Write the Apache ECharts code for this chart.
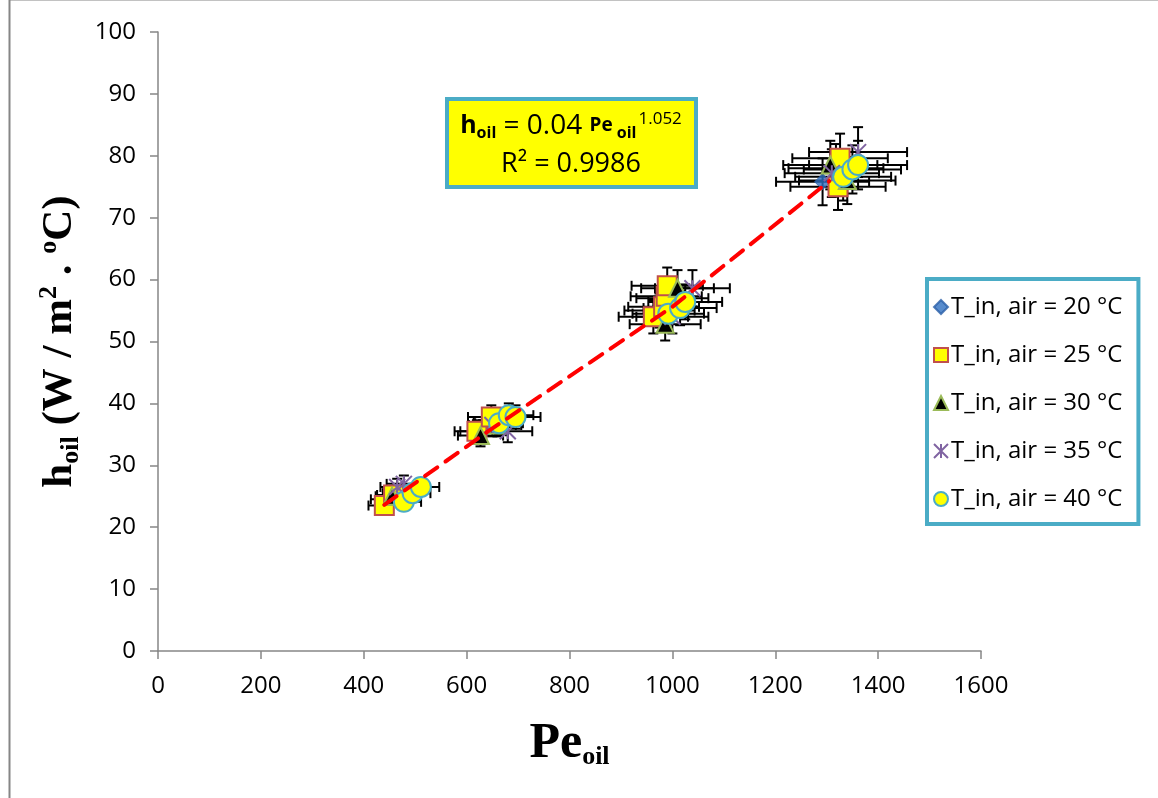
<!DOCTYPE html>
<html>
<head>
<meta charset="utf-8">
<script src="https://cdn.jsdelivr.net/npm/echarts@6/dist/echarts.min.js"></script>
<style>
html,body{margin:0;padding:0;background:#fff;}
#chart{width:1158px;height:798px;}
</style>
</head>
<body>
<div id="chart"></div>
<script>
// ---- data ----
const seriesNames = ['T_in, air = 20 °C','T_in, air = 25 °C','T_in, air = 30 °C','T_in, air = 35 °C','T_in, air = 40 °C'];
const t20 = [[445,24.5],[470,25.5],[632,35.5],[660,37.0],[975,55.0],[1000,57.0],[1292,75.8],[1318,78.0]];
const t25 = [[440,23.5],[458,25.2],[620,35.5],[648,37.8],[963,54.0],[983,55.6],[988,57.3],[990,59.0],[1322,75.0],[1326,79.6]];
const t30 = [[455,25.0],[627,34.8],[660,36.5],[986,52.8],[1010,58.6],[1307,78.5],[1340,76.0]];
const t35 = [[465,26.5],[478,27.0],[650,36.5],[680,35.5],[1000,54.0],[1039,58.6],[1310,77.2],[1361,80.6]];
const t40 = [[478,24.1],[495,25.5],[511,26.5],[663,36.8],[682,38.1],[695,37.8],[992,54.5],[1015,55.4],[1025,56.4],[1332,76.6],[1350,77.8],[1361,78.5]];
const trendPts = [[440,23.6],[640,35.4],[1000,55.6],[1305,75.9]];
const xErrFrac = 0.07;   // percentage error bars
const yErrFrac = 0.05;
const xTicks = {min:0, max:1600, interval:200};
const yTicks = {min:0, max:100, interval:10};

const colors = {
  t20:{fill:'#2e6fc0', border:'#2e6fc0'},
  t25:{fill:'#ffff00', border:'#c0504d'},
  t30:{fill:'#000000', border:'#9bbb59'},
  t35:{fill:'rgba(0,0,0,0)', border:'#8064a2'},
  t40:{fill:'#ffff00', border:'#4bacc6'}
};

const allSets = [t20,t25,t30,t35,t40];
const errData = [];
allSets.forEach(s => s.forEach(p => errData.push([p[0], p[1], p[0]*xErrFrac, p[1]*yErrFrac])));

const chart = echarts.init(document.getElementById('chart'));
const FONT = 'Open Sans';
const asterisk = 'path://M0,0L10,10M10,0L0,10M5,0L5,10';

function scatter(name, data, symbol, size, c, extra){
  return Object.assign({
    name: name, type:'scatter', data:data, symbol:symbol, symbolSize:size, z:5,
    itemStyle:{color:c.fill, borderColor:c.border, borderWidth:2, opacity:1},
    emphasis:{disabled:true}
  }, extra||{});
}

const option = {
  animation:false,
  backgroundColor:'#ffffff',
  grid:{left:158, right:177, top:32, bottom:147},
  xAxis:{
    type:'value', min:xTicks.min, max:xTicks.max, interval:xTicks.interval,
    axisLine:{show:true, onZero:false, lineStyle:{color:'#868686', width:1.5}},
    axisTick:{show:true, inside:false, length:8, lineStyle:{color:'#868686', width:1.5}},
    splitLine:{show:false},
    axisLabel:{color:'#000', fontSize:24, fontFamily:FONT, margin:23, formatter:v => String(v)},
    name:'{b|Pe}{s|oil}', nameLocation:'middle', nameGap:67,
    nameTextStyle:{rich:{
      b:{fontFamily:'Liberation Serif', fontWeight:'bold', fontSize:50, color:'#000'},
      s:{fontFamily:'Liberation Serif', fontWeight:'bold', fontSize:26, color:'#000', verticalAlign:'bottom', padding:[26,0,0,0]}
    }}
  },
  yAxis:{
    type:'value', min:yTicks.min, max:yTicks.max, interval:yTicks.interval,
    axisLine:{show:true, onZero:false, lineStyle:{color:'#868686', width:1.5}},
    axisTick:{show:true, inside:false, length:8, lineStyle:{color:'#868686', width:1.5}},
    splitLine:{show:false},
    axisLabel:{color:'#000', fontSize:24, fontFamily:FONT, margin:22},
    name:'{b|h}{s|oil}{b| (W / m}{p|2}{b| . }{p|o}{b|C)}', nameLocation:'middle', nameGap:69, nameRotate:90,
    nameTextStyle:{rich:{
      b:{fontFamily:'Liberation Serif', fontWeight:'bold', fontSize:43, color:'#000'},
      s:{fontFamily:'Liberation Serif', fontWeight:'bold', fontSize:26, color:'#000', verticalAlign:'bottom', padding:[22,0,0,0]},
      p:{fontFamily:'Liberation Serif', fontWeight:'bold', fontSize:26, color:'#000', verticalAlign:'top', padding:[0,0,18,0]}
    }}
  },
  legend:{
    orient:'vertical', left:927, top:279,
    data:seriesNames,
    backgroundColor:'#fff', borderColor:'#4bacc6', borderWidth:4, borderRadius:0,
    padding:[16,16,13,6],
    itemWidth:14, itemHeight:14, itemGap:24,
    textStyle:{fontFamily:FONT, fontSize:24, color:'#000', lineHeight:24, padding:[0,0,0,-2]},
    selectedMode:false
  },
  series:[
    {
      type:'custom', name:'errors', z:2, silent:true,
      data:errData,
      renderItem:function(params, api){
        const x = api.value(0), y = api.value(1), xe = api.value(2), ye = api.value(3);
        const l = api.coord([x-xe, y]), r = api.coord([x+xe, y]);
        const t = api.coord([x, y+ye]), b = api.coord([x, y-ye]);
        const cap = 5;
        const st = {stroke:'#000', lineWidth:2};
        const ln = (x1,y1,x2,y2) => ({type:'line', shape:{x1:x1,y1:y1,x2:x2,y2:y2}, style:st});
        return {type:'group', children:[
          ln(l[0],l[1],r[0],r[1]),
          ln(l[0],l[1]-cap,l[0],l[1]+cap),
          ln(r[0],r[1]-cap,r[0],r[1]+cap),
          ln(t[0],t[1],b[0],b[1]),
          ln(t[0]-cap,t[1],t[0]+cap,t[1]),
          ln(b[0]-cap,b[1],b[0]+cap,b[1])
        ]};
      }
    },
    scatter(seriesNames[0], t20, 'diamond', 16, colors.t20, {itemStyle:{color:colors.t20.fill, borderColor:'#2a5fa8', borderWidth:1}}),
    scatter(seriesNames[1], t25, 'rect', 19, colors.t25),
    scatter(seriesNames[2], t30, 'triangle', 17, colors.t30),
    scatter(seriesNames[3], t35, asterisk, 16, colors.t35),
    scatter(seriesNames[4], t40, 'circle', 20, colors.t40),
    {
      type:'line', name:'trend', data:trendPts, symbol:'none', z:8, silent:true, smooth:false,
      lineStyle:{color:'#ff0000', width:4, type:[15,10], cap:'round'}
    }
  ],
  graphic:[
    {type:'rect', left:7, top:-3, shape:{width:1160, height:806}, style:{fill:'none', stroke:'#868686', lineWidth:2}, silent:true, z:0},
    {type:'group', left:445, top:97, z:20, children:[
      {type:'rect', shape:{x:0, y:0, width:249, height:88}, style:{fill:'#ffff00', stroke:'#4bacc6', lineWidth:4}},
      {type:'text', x:124, y:27, style:{
        text:'{hb|h}{hs|oil}{n| = 0.04 }{pb|Pe}{ps| oil}{sp|1.052}',
        align:'center', verticalAlign:'middle',
        rich:{
          hb:{fontFamily:FONT, fontWeight:'bold', fontSize:25, fill:'#000'},
          hs:{fontFamily:FONT, fontWeight:'bold', fontSize:16, fill:'#000', verticalAlign:'bottom', padding:[14,0,0,0]},
          n:{fontFamily:FONT, fontSize:28, fill:'#000'},
          pb:{fontFamily:FONT, fontWeight:'bold', fontSize:19, fill:'#000'},
          ps:{fontFamily:FONT, fontWeight:'bold', fontSize:16, fill:'#000', verticalAlign:'bottom', padding:[14,0,0,0]},
          sp:{fontFamily:FONT, fontSize:17, fill:'#000', verticalAlign:'top', padding:[0,0,14,2]}
        }
      }},
      {type:'text', x:124, y:65, style:{
        text:'R² = 0.9986', align:'center', verticalAlign:'middle',
        fontFamily:FONT, fontSize:27, fill:'#000'
      }}
    ]}
  ]
};
chart.setOption(option);
</script>
</body>
</html>
